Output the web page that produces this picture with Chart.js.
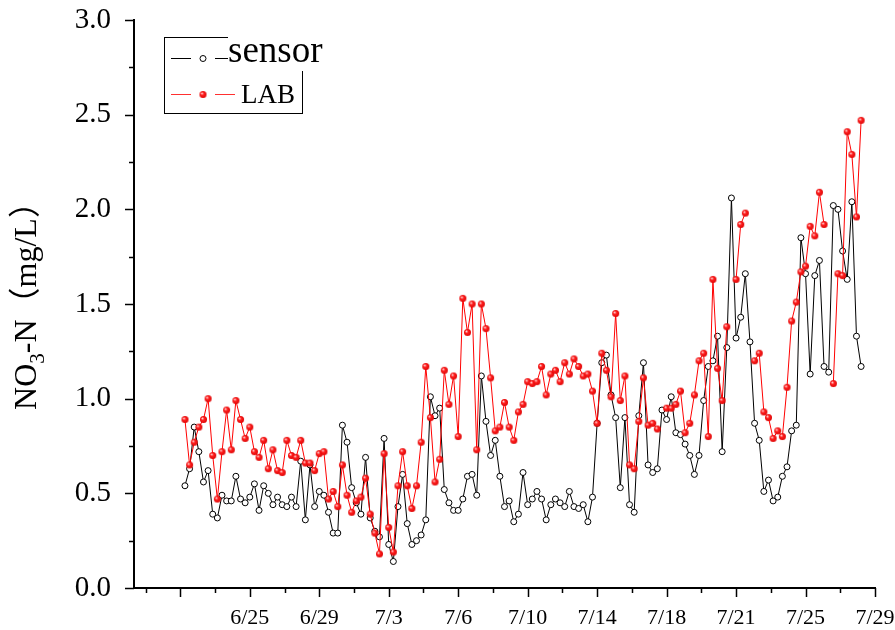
<!DOCTYPE html>
<html>
<head>
<meta charset="utf-8">
<script src="https://cdn.jsdelivr.net/npm/chart.js@4.4.1/dist/chart.umd.min.js"></script>
<style>
  html, body { margin: 0; padding: 0; background: #fff; }
  #wrap { width: 895px; height: 630px; }
</style>
</head>
<body>
<div id="wrap"><canvas id="c" width="895" height="630"></canvas></div>
<script>
// samples are numbered 1..147, one every ~6 h
const sensor = [
  0.54, 0.63, 0.85, 0.72, 0.56, 0.62, 0.39, 0.37, 0.49, 0.46,
  0.46, 0.59, 0.47, 0.45, 0.48, 0.55, 0.41, 0.54, 0.50, 0.44,
  0.48, 0.44, 0.43, 0.48, 0.43, 0.67, 0.36, 0.65, 0.43, 0.51,
  0.49, 0.40, 0.29, 0.29, 0.86, 0.77, 0.53, 0.45, 0.39, 0.69,
  0.37, 0.30, 0.27, 0.79, 0.23, 0.14, 0.43, 0.60, 0.34, 0.23,
  0.25, 0.28, 0.36, 1.01, 0.91, 0.95, 0.52, 0.45, 0.41, 0.41,
  0.47, 0.59, 0.60, 0.49, 1.12, 0.88, 0.70, 0.78, 0.59, 0.43,
  0.46, 0.35, 0.39, 0.61, 0.44, 0.47, 0.51, 0.47, 0.36, 0.44,
  0.47, 0.45, 0.43, 0.51, 0.43, 0.42, 0.44, 0.35, 0.48, 0.87,
  1.19, 1.23, 1.02, 0.90, 0.53, 0.90, 0.44, 0.40, 0.91, 1.19,
  0.65, 0.61, 0.63, 0.94, 0.89, 1.01, 0.82, 0.81, 0.76, 0.70,
  0.60, 0.70, 0.99, 1.17, 1.20, 1.33, 0.72, 1.27, 2.06, 1.32,
  1.43, 1.66, 1.30, 0.87, 0.78, 0.51, 0.57, 0.46, 0.48, 0.59,
  0.64, 0.83, 0.86, 1.85, 1.66, 1.13, 1.65, 1.73, 1.17, 1.14,
  2.02, 2.00, 1.78, 1.63, 2.04, 1.33, 1.17
];
const lab = [
  0.89, 0.65, 0.77, 0.85, 0.89, 1.00, 0.70, 0.47, 0.72, 0.94,
  0.73, 0.99, 0.89, 0.79, 0.85, 0.72, 0.69, 0.78, 0.63, 0.73,
  0.62, 0.61, 0.78, 0.70, 0.69, 0.78, 0.66, 0.66, 0.62, 0.71,
  0.72, 0.47, 0.51, 0.43, 0.65, 0.49, 0.40, 0.46, 0.48, 0.58,
  0.39, 0.29, 0.18, 0.71, 0.32, 0.19, 0.54, 0.72, 0.54, 0.42,
  0.54, 0.77, 1.17, 0.90, 0.56, 0.68, 1.15, 0.97, 1.12, 0.80,
  1.53, 1.35, 1.50, 0.73, 1.50, 1.37, 1.11, 0.83, 0.85, 0.98,
  0.85, 0.78, 0.93, 0.97, 1.09, 1.08, 1.09, 1.17, 1.02, 1.13,
  1.15, 1.09, 1.19, 1.13, 1.21, 1.17, 1.12, 1.13, 1.04, 0.87,
  1.24, 1.15, 1.01, 1.45, 0.99, 1.12, 0.65, 0.63, 0.88, 1.11,
  0.86, 0.87, 0.84, null, 0.95, 0.95, 0.97, 1.04, 0.82, 0.87,
  1.02, 1.20, 1.24, 0.80, 1.63, 1.16, 0.99, 1.38, null, 1.63,
  1.92, 1.98, null, 1.20, 1.24, 0.93, 0.90, 0.79, 0.83, 0.80,
  1.06, 1.41, 1.51, 1.67, 1.70, 1.91, 1.86, 2.09, 1.92, null,
  1.08, 1.66, 1.65, 2.41, 2.29, 1.96, 2.47
];
// date labels at every 15th sample (sample 0 has no label)
const dateLabels = ['', '6/25', '6/29', '7/3', '7/6', '7/10', '7/14', '7/18', '7/21', '7/25', '7/29'];
const yTicks = [0, 0.5, 1.0, 1.5, 2.0, 2.5, 3.0];

const SERIF = '"Liberation Serif", "Times New Roman", serif';

// small shaded red ball for the LAB markers
function makeBall(r) {
  const s = r * 2 + 2;
  const cv = document.createElement('canvas');
  cv.width = s; cv.height = s;
  const g = cv.getContext('2d');
  const grad = g.createRadialGradient(s / 2 - 1.2, s / 2 - 1.2, 0.3, s / 2, s / 2, r + 0.5);
  grad.addColorStop(0, '#ffd0d0');
  grad.addColorStop(0.35, '#ff2020');
  grad.addColorStop(1, '#d80000');
  g.fillStyle = grad;
  g.beginPath();
  g.arc(s / 2, s / 2, r, 0, Math.PI * 2);
  g.fill();
  return cv;
}
const redBall = makeBall(3.5);

const tickMarks = {
  id: 'tickMarks',
  afterDraw(chart) {
    const { ctx, scales: { x, y } } = chart;
    ctx.save();
    ctx.strokeStyle = '#000';
    ctx.lineWidth = 1.5;
    ctx.beginPath();
    for (let v = -7.5; v <= 150; v += 7.5) {
      const px = Math.round(x.getPixelForValue(v)) + 0.5;
      const len = v % 15 === 0 ? 9 : 5;
      ctx.moveTo(px, y.bottom);
      ctx.lineTo(px, y.bottom + len);
    }
    for (let v = 0; v <= 3.0001; v += 0.25) {
      const py = Math.round(y.getPixelForValue(v)) + 0.5;
      const len = Math.abs(v * 2 - Math.round(v * 2)) < 1e-6 ? 9 : 5;
      ctx.moveTo(x.left, py);
      ctx.lineTo(x.left - len, py);
    }
    ctx.stroke();

    // y axis title with subscript
    ctx.translate(36, (y.top + y.bottom) / 2 - 6);
    ctx.rotate(-Math.PI / 2);
    ctx.fillStyle = '#000';
    ctx.textBaseline = 'alphabetic';
    const big = '32px ' + SERIF + ', "Noto Sans CJK SC"';
    const small = '21px ' + SERIF;
    const parts = [['NO', big, 0], ['3', small, 8], ['-N', big, 0], ['（mg/L）', big, 0]];
    let total = 0;
    parts.forEach(p => { ctx.font = p[1]; total += ctx.measureText(p[0]).width; });
    let cx = -total / 2;
    parts.forEach(p => {
      ctx.font = p[1];
      ctx.fillText(p[0], cx, p[2]);
      cx += ctx.measureText(p[0]).width;
    });
    ctx.restore();
  }
};

const legendBox = {
  id: 'legendBox',
  afterDraw(chart) {
    const ctx = chart.ctx;
    ctx.save();
    ctx.strokeStyle = '#000';
    ctx.lineWidth = 1;
    ctx.strokeRect(164.5, 37.5, 138, 76);
    ctx.fillStyle = '#fff';
    ctx.fillRect(228, 28, 110, 43);

    // sensor row
    ctx.strokeStyle = '#000';
    ctx.beginPath();
    ctx.moveTo(171, 58.5); ctx.lineTo(191, 58.5);
    ctx.moveTo(215, 58.5); ctx.lineTo(228, 58.5);
    ctx.stroke();
    ctx.beginPath();
    ctx.arc(203, 58.5, 3, 0, Math.PI * 2);
    ctx.fillStyle = '#fff'; ctx.fill(); ctx.stroke();
    ctx.fillStyle = '#000';
    ctx.font = '37px ' + SERIF;
    ctx.textBaseline = 'alphabetic';
    ctx.fillText(chart.data.datasets[1].label, 228, 62);

    // LAB row
    ctx.strokeStyle = '#ff3030';
    ctx.beginPath();
    ctx.moveTo(171, 94.5); ctx.lineTo(191, 94.5);
    ctx.moveTo(215, 94.5); ctx.lineTo(235, 94.5);
    ctx.stroke();
    ctx.drawImage(redBall, 203 - redBall.width / 2, 94.5 - redBall.height / 2);
    ctx.fillStyle = '#000';
    ctx.font = '27px ' + SERIF;
    ctx.fillText(chart.data.datasets[0].label, 241, 103);
    ctx.restore();
  }
};

new Chart(document.getElementById('c'), {
  type: 'line',
  data: {
    datasets: [
      {
        label: 'LAB',
        data: lab.map((v, i) => ({ x: i + 1, y: v })),
        borderColor: '#ff0000',
        borderWidth: 1,
        pointStyle: redBall,
        pointRadius: 3.5,
        spanGaps: false,
        order: 0
      },
      {
        label: 'sensor',
        data: sensor.map((v, i) => ({ x: i + 1, y: v })),
        borderColor: '#000',
        borderWidth: 1,
        pointStyle: 'circle',
        pointRadius: 3,
        pointBorderWidth: 1,
        pointBorderColor: '#000',
        pointBackgroundColor: '#fff',
        order: 1
      }
    ]
  },
  options: {
    responsive: false,
    animation: false,
    devicePixelRatio: 1,
    layout: { padding: { top: 20, right: 20, left: 0, bottom: 0 } },
    plugins: { legend: { display: false }, tooltip: { enabled: false } },
    elements: { line: { tension: 0 } },
    scales: {
      x: {
        type: 'linear',
        min: -10,
        max: 150,
        grid: { display: false },
        border: { display: true, color: '#000', width: 2 },
        afterFit: s => { s.height = 42; s.paddingLeft = 0; s.paddingRight = 0; },
        ticks: {
          stepSize: 15,
          autoSkip: false,
          maxRotation: 0,
          padding: 9,
          color: '#000',
          font: { family: SERIF, size: 22 },
          callback: v => (v >= 0 && v % 15 === 0) ? dateLabels[v / 15] : ''
        }
      },
      y: {
        min: 0,
        max: 3,
        grid: { display: false },
        border: { display: true, color: '#000', width: 2 },
        afterFit: s => { s.width = 134; s.paddingTop = 0; s.paddingBottom = 0; },
        afterBuildTicks: s => { s.ticks = yTicks.map(v => ({ value: v })); },
        ticks: {
          padding: 15,
          color: '#000',
          font: { family: SERIF, size: 29 },
          callback: v => Number(v).toFixed(1)
        }
      }
    }
  },
  plugins: [tickMarks, legendBox]
});
</script>
</body>
</html>
